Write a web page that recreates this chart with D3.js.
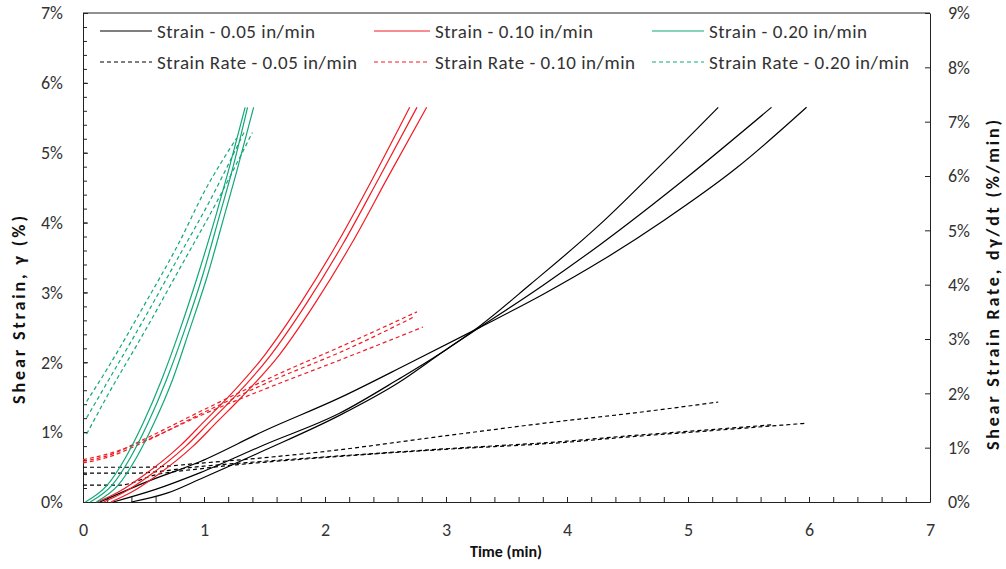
<!DOCTYPE html>
<meta charset="utf-8">
<style>
body { margin: 0; background: #fff; }
svg text { font-family: Calibri, Carlito, Lato, sans-serif; fill: #333; }
.axis path, .axis line { stroke: #222; stroke-width: 1px; }
.axis text { font-size: 18px; }
.title { font-size: 16px; font-weight: bold; fill: #111; }
.vtitle { font-size: 18px; }
.legend text { font-size: 19px; }
</style>

<svg width="1006" height="569"></svg>

<script src="https://cdn.jsdelivr.net/npm/d3@7"></script>
<script>

// time (min), strain (%) -- left axis
var strain005 = [
  [[0.25,0],[0.6,0.18],[0.97,0.42],[1.5,0.82],[2.12,1.27],[2.6,1.75],[3.0,2.18],[3.28,2.52],[3.7,3.12],[4.27,3.97],[4.75,4.78],[5.25,5.65]],
  [[0.4,0],[0.7,0.13],[0.97,0.33],[1.5,0.74],[2.12,1.24],[2.6,1.7],[3.0,2.18],[3.28,2.5],[3.8,3.1],[4.27,3.68],[5.0,4.66],[5.69,5.65]],
  [[0.14,0],[0.5,0.27],[0.97,0.58],[1.5,1.02],[2.12,1.49],[2.7,1.99],[3.28,2.5],[3.8,2.97],[4.3,3.47],[4.8,4.03],[5.4,4.78],[5.98,5.65]]
];
var strain010 = [
  [[0.12,0],[0.3,0.15],[0.5,0.38],[0.8,0.8],[1.0,1.15],[1.2,1.5],[1.5,2.1],[1.8,2.85],[2.1,3.7],[2.4,4.65],[2.70,5.65]],
  [[0.17,0],[0.35,0.15],[0.55,0.38],[0.85,0.8],[1.05,1.15],[1.25,1.5],[1.55,2.1],[1.85,2.85],[2.15,3.7],[2.45,4.65],[2.76,5.65]],
  [[0.23,0],[0.41,0.15],[0.61,0.38],[0.91,0.8],[1.11,1.15],[1.31,1.5],[1.62,2.1],[1.92,2.85],[2.22,3.7],[2.52,4.65],[2.84,5.65]]
];
var strain020 = [
  [[0.02,0],[0.2,0.24],[0.35,0.63],[0.5,1.14],[0.65,1.75],[0.8,2.46],[0.95,3.25],[1.1,4.11],[1.2,4.73],[1.34,5.65]],
  [[0.06,0],[0.24,0.24],[0.39,0.63],[0.54,1.14],[0.69,1.75],[0.84,2.46],[0.99,3.25],[1.13,4.11],[1.23,4.73],[1.36,5.65]],
  [[0.11,0],[0.29,0.24],[0.44,0.63],[0.59,1.14],[0.74,1.75],[0.88,2.46],[1.03,3.25],[1.17,4.11],[1.27,4.73],[1.41,5.65]]
];

// time (min), strain rate (%/min) -- right axis
var rate005 = [
  [[0,0.64],[0.5,0.64],[1.0,0.72],[2.0,0.93],[3.0,1.22],[4.0,1.5],[4.52,1.63],[5.25,1.84]],
  [[0,0.53],[0.4,0.53],[1.0,0.66],[2.0,0.83],[3.0,0.98],[4.0,1.12],[4.52,1.22],[5.0,1.3],[5.69,1.42]],
  [[0,0.31],[0.3,0.31],[0.6,0.5],[1.0,0.62],[2.0,0.82],[3.0,0.97],[4.0,1.1],[4.52,1.2],[5.0,1.28],[5.98,1.45]]
];
var rate010 = [
  [[0,0.75],[0.2,0.85],[0.5,1.15],[1.0,1.7],[1.63,2.37],[2.12,2.85],[2.76,3.5]],
  [[0,0.78],[0.2,0.88],[0.5,1.12],[1.0,1.62],[1.63,2.19],[2.12,2.61],[2.81,3.22]],
  [[0,0.72],[0.2,0.82],[0.5,1.1],[1.0,1.65],[1.63,2.3],[2.12,2.75],[2.73,3.4]]
];
var rate020 = [
  [[0.03,1.85],[0.2,2.45],[0.5,3.6],[0.8,4.8],[1.0,5.7],[1.27,6.7]],
  [[0.03,1.55],[0.2,2.2],[0.5,3.35],[0.8,4.55],[1.05,5.55],[1.33,6.8]],
  [[0.03,1.25],[0.2,1.95],[0.5,3.1],[0.8,4.3],[1.1,5.5],[1.40,6.8]]
];

var legendNames = ["Strain - 0.05 in/min", "Strain - 0.10 in/min", "Strain - 0.20 in/min",
                   "Strain Rate - 0.05 in/min", "Strain Rate - 0.10 in/min", "Strain Rate - 0.20 in/min"];
var colors = ["#000000", "#f01c24", "#10a878"];

var svg = d3.select("svg");

var x = d3.scaleLinear().domain([0, 7]).range([83, 930]);
var yL = d3.scaleLinear().domain([0, 7]).range([502, 13]);
var yR = d3.scaleLinear().domain([0, 9]).range([502, 13]);

// minor ticks
svg.append("g").attr("class", "axis").attr("transform", "translate(0,502)")
  .call(d3.axisBottom(x).tickValues(d3.range(0, 7.001, 0.2)).tickSize(-5).tickFormat(""))
  .select(".domain").remove();
svg.append("g").attr("class", "axis").attr("transform", "translate(83,0)")
  .call(d3.axisLeft(yL).tickValues(d3.range(0, 7.001, 0.2)).tickSize(-4).tickFormat(""))
  .select(".domain").remove();

// main axes
svg.append("g").attr("class", "axis").attr("transform", "translate(0,502)")
  .call(d3.axisBottom(x).ticks(7).tickSizeInner(-5).tickSizeOuter(0).tickPadding(21).tickFormat(d3.format("d")));
svg.append("g").attr("class", "axis").attr("transform", "translate(83,0)")
  .call(d3.axisLeft(yL).ticks(7).tickSizeInner(-5).tickSizeOuter(0).tickPadding(20).tickFormat(function(d) { return d + "%"; }));
svg.append("g").attr("class", "axis").attr("transform", "translate(930,0)")
  .call(d3.axisRight(yR).ticks(9).tickSizeInner(-5).tickSizeOuter(0).tickPadding(18).tickFormat(function(d) { return d + "%"; }));

// top border
svg.append("line").attr("x1", 83).attr("x2", 930).attr("y1", 13).attr("y2", 13)
  .attr("stroke", "#222");

var lineL = d3.line().x(function(d) { return x(d[0]); }).y(function(d) { return yL(d[1]); }).curve(d3.curveMonotoneX);
var lineR = d3.line().x(function(d) { return x(d[0]); }).y(function(d) { return yR(d[1]); }).curve(d3.curveMonotoneX);

var plot = svg.append("g");

function drawSet(runs, gen, color, dashed) {
  plot.selectAll(null).data(runs).enter().append("path")
    .attr("d", gen)
    .attr("fill", "none")
    .attr("stroke", color)
    .attr("stroke-width", 1.2)
    .attr("stroke-dasharray", dashed ? "4,3" : null);
}

drawSet(rate005, lineR, colors[0], true);
drawSet(rate010, lineR, colors[1], true);
drawSet(rate020, lineR, colors[2], true);
drawSet(strain005, lineL, colors[0], false);
drawSet(strain010, lineL, colors[1], false);
drawSet(strain020, lineL, colors[2], false);

// legend
var legX = [100, 374, 652];
var legW = [52, 56, 52];
var legY = [31, 62];
var legLen = [158, 200];
var legend = svg.append("g").attr("class", "legend");
legendNames.forEach(function(name, i) {
  var col = i % 3, row = Math.floor(i / 3);
  legend.append("line")
    .attr("x1", legX[col]).attr("x2", legX[col] + legW[col])
    .attr("y1", legY[row]).attr("y2", legY[row])
    .attr("stroke", colors[col]).attr("stroke-width", 1.2)
    .attr("stroke-dasharray", row ? "4,3" : null);
  legend.append("text")
    .attr("x", legX[col] + legW[col] + 5).attr("y", legY[row])
    .attr("dy", "0.35em")
    .attr("textLength", legLen[row])
    .attr("lengthAdjust", "spacing")
    .text(name);
});

// axis titles
svg.append("text").attr("class", "title vtitle")
  .attr("transform", "translate(25,310) rotate(-90)")
  .attr("text-anchor", "middle")
  .attr("textLength", 188).attr("lengthAdjust", "spacing")
  .text("Shear Strain, γ (%)");
svg.append("text").attr("class", "title vtitle")
  .attr("transform", "translate(999,285) rotate(-90)")
  .attr("text-anchor", "middle")
  .attr("textLength", 330).attr("lengthAdjust", "spacing")
  .text("Shear Strain Rate, dγ/dt (%/min)");
svg.append("text").attr("class", "title")
  .attr("x", 506).attr("y", 557)
  .attr("text-anchor", "middle")
  .text("Time (min)");

</script>
